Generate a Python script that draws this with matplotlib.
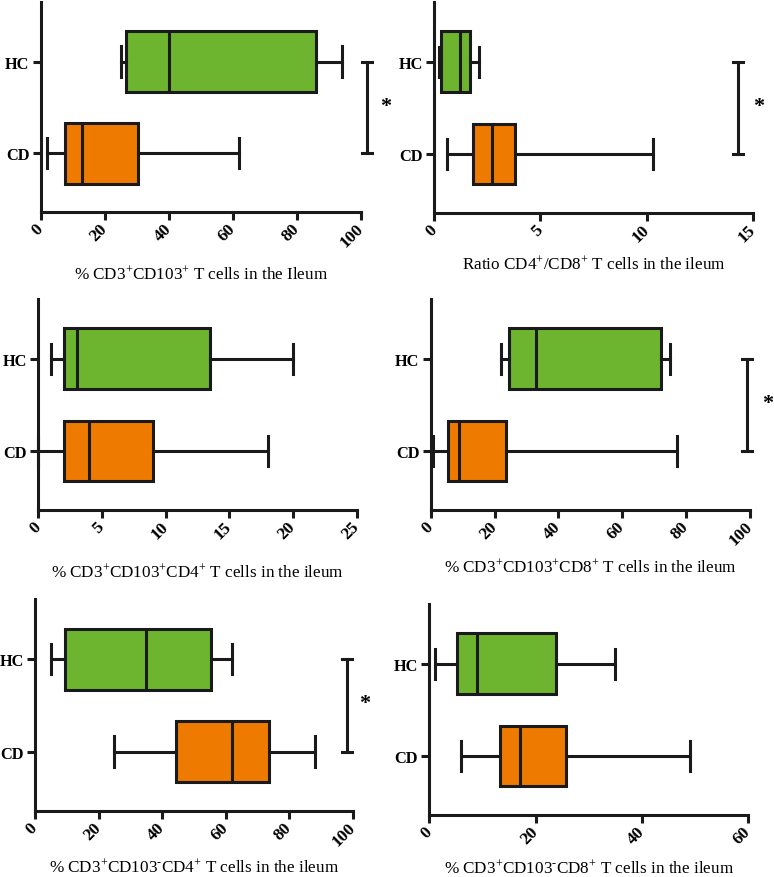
import matplotlib
matplotlib.use("Agg")
import matplotlib.pyplot as plt

# five-number summaries: [whisker low, Q1, median, Q3, whisker high]
groups = ["CD", "HC"]

hc_cd103 = [25, 26.5, 40, 86, 94]
cd_cd103 = [2, 7.5, 13, 30.5, 62]

hc_ratio = [0.2, 0.3, 1.2, 1.7, 2.1]
cd_ratio = [0.6, 1.8, 2.7, 3.8, 10.3]

hc_cd103_cd4 = [1, 2, 3, 13.5, 20]
cd_cd103_cd4 = [0, 2, 4, 9, 18]

hc_cd103_cd8 = [22, 24.5, 33, 72, 75]
cd_cd103_cd8 = [0.8, 5.5, 9, 23.7, 77]

hc_cd103neg_cd4 = [5, 9.3, 35, 55.5, 62]
cd_cd103neg_cd4 = [25, 44.3, 62, 73.6, 88]

hc_cd103neg_cd8 = [1, 5.3, 9, 23.8, 35]
cd_cd103neg_cd8 = [6, 13.3, 17, 25.7, 49]

xlabels = [
    r"% CD3$^{+}$CD103$^{+}$ T cells in the Ileum",
    r"Ratio CD4$^{+}$/CD8$^{+}$ T cells in the ileum",
    r"% CD3$^{+}$CD103$^{+}$CD4$^{+}$ T cells in the ileum",
    r"% CD3$^{+}$CD103$^{+}$CD8$^{+}$ T cells in the ileum",
    r"% CD3$^{+}$CD103$^{\text{-}}$CD4$^{+}$ T cells in the ileum",
    r"% CD3$^{+}$CD103$^{\text{-}}$CD8$^{+}$ T cells in the ileum",
]
xticks = [
    [0, 20, 40, 60, 80, 100],
    [0, 5, 10, 15],
    [0, 5, 10, 15, 20, 25],
    [0, 20, 40, 60, 80, 100],
    [0, 20, 40, 60, 80, 100],
    [0, 20, 40, 60],
]

plt.rcParams["font.family"] = "Liberation Serif"
plt.rcParams["mathtext.fontset"] = "custom"
plt.rcParams["mathtext.rm"] = "Liberation Serif"
plt.rcParams["mathtext.it"] = "Liberation Serif:italic"
plt.rcParams["mathtext.bf"] = "Liberation Serif:bold"

GREEN = "#6db52e"
ORANGE = "#ee7a00"
LW = 2.2

W, H = 774, 878
fig = plt.figure(figsize=(W / 100, H / 100), dpi=100)

# pixel boxes (left, right, top, bottom) of each panel
boxes_px = [
    (40.7, 361, 3, 213),
    (434.3, 752.7, 3, 214),
    (38.3, 356.7, 300, 511),
    (430.7, 750, 300, 511),
    (35, 352.7, 600, 811.7),
    (429.3, 748.3, 605, 816),
]
label_off = [0.29, 0.24, 0.29, 0.265, 0.265, 0.25]
# significance bracket (x of bar, x of star), None = no bracket
brackets = [(101.9, 107.6), (14.3, 15.3), None, (99, 105.5), (98.1, 103.9), None]

data = [
    (cd_cd103, hc_cd103),
    (cd_ratio, hc_ratio),
    (cd_cd103_cd4, hc_cd103_cd4),
    (cd_cd103_cd8, hc_cd103_cd8),
    (cd_cd103neg_cd4, hc_cd103neg_cd4),
    (cd_cd103neg_cd8, hc_cd103neg_cd8),
]


def stats(vals, name):
    lo, q1, med, q3, hi = vals
    return dict(label=name, whislo=lo, q1=q1, med=med, q3=q3, whishi=hi, fliers=[])


for i, (l, r, t, b) in enumerate(boxes_px):
    ax = fig.add_axes([l / W, 1 - b / H, (r - l) / W, (b - t) / H])
    cd, hc = data[i]
    bp = ax.bxp([stats(cd, "CD"), stats(hc, "HC")], positions=[0, 1], vert=False,
                widths=0.66, patch_artist=True, showfliers=False,
                boxprops=dict(linewidth=LW, edgecolor="#1a1a1a"),
                medianprops=dict(linewidth=LW, color="#1a1a1a"),
                whiskerprops=dict(linewidth=LW, color="#1a1a1a"),
                capprops=dict(linewidth=LW, color="#1a1a1a"))
    for j, patch in enumerate(bp["boxes"]):
        patch.set_facecolor([ORANGE, GREEN][j])
    for c in bp["caps"] + bp["whiskers"]:
        c.set_clip_on(False)

    xt = xticks[i]
    ax.set_xlim(xt[0], xt[-1])
    ax.set_ylim(-0.64, 1.65)
    ax.set_xticks(xt)
    ax.set_xticklabels([str(v) for v in xt], rotation=45, ha="right", va="center",
                       rotation_mode="anchor", fontweight="bold", fontsize=12.5)
    ax.set_yticks([0, 1])
    ax.set_yticklabels(groups, fontweight="bold", fontsize=11.8)
    ax.tick_params(axis="both", direction="out", length=6, width=LW, color="#1a1a1a")
    ax.tick_params(axis="x", pad=4)
    ax.tick_params(axis="y", pad=2)
    for s in ["top", "right"]:
        ax.spines[s].set_visible(False)
    for s in ["left", "bottom"]:
        ax.spines[s].set_linewidth(LW)
        ax.spines[s].set_color("#1a1a1a")
    ax.set_xlabel(xlabels[i], fontsize=12.3, va="center")
    ax.xaxis.set_label_coords(0.5, -label_off[i])

    if brackets[i] is not None:
        bx, sx = brackets[i]
        ax.plot([bx, bx], [0, 1], color="#1a1a1a", lw=LW, clip_on=False)
        cw = 0.016 * (xt[-1] - xt[0])
        for yy in (0, 1):
            ax.plot([bx - cw, bx + cw], [yy, yy], color="#1a1a1a", lw=LW, clip_on=False)
        ax.text(sx, 0.52, "*", fontsize=16, fontweight="bold", ha="center", va="center",
                clip_on=False)

fig.savefig("out.png", dpi=100)
